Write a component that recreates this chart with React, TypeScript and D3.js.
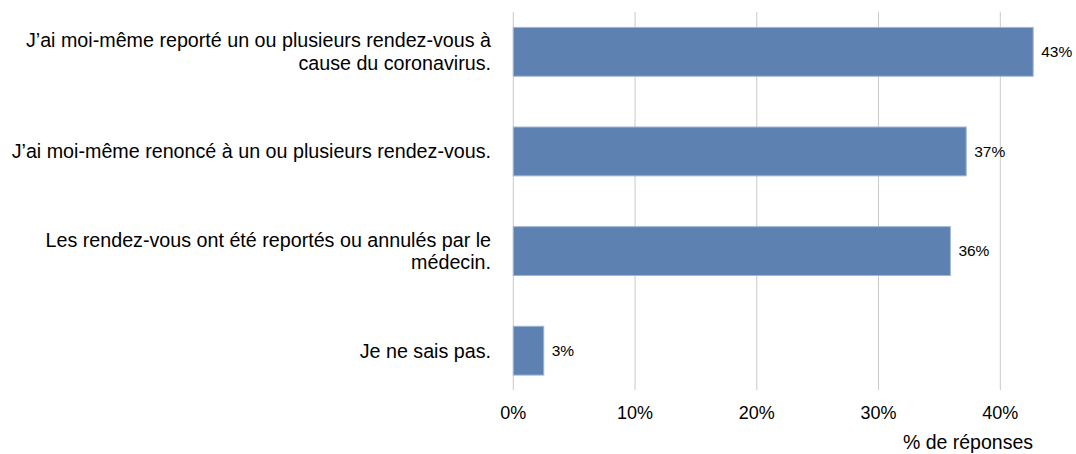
import React from 'react';
import * as d3 from 'd3';

// answers, with manual line breaks as in the source chart
const categories = [
  "J’ai moi-même reporté un ou plusieurs rendez-vous à\ncause du coronavirus.",
  "J’ai moi-même renoncé à un ou plusieurs rendez-vous.",
  "Les rendez-vous ont été reportés ou annulés par le\nmédecin.",
  "Je ne sais pas.",
];
const values = [42.7, 37.2, 35.9, 2.5];
const valueLabels = ["43%", "37%", "36%", "3%"];
const ticks = [0, 10, 20, 30, 40];
const axisTitle = "% de réponses";

const W = 1076, H = 454;
const font = "'Liberation Sans', Arial, sans-serif";

export default function App() {
  const x = d3.scaleLinear().domain([0, 40]).range([513.3, 1000.3]);
  const y = d3.scaleBand<string>().domain(categories).range([2, 400.5]).paddingInner(0.51).paddingOuter(0.255);
  const gridTop = 12, gridBottom = 390;

  return (
    <svg width={W} height={H} style={{ position: 'absolute', left: 0, top: 0, background: '#fff' }}>
      <g>
        {ticks.map(t => (
          <line key={t} x1={x(t)} x2={x(t)} y1={gridTop} y2={gridBottom} stroke="#c9c9c9" strokeWidth={1} />
        ))}
      </g>
      <g>
        {categories.map((c, i) => (
          <rect key={c} x={x(0)} y={y(c)} width={x(values[i]) - x(0)} height={y.bandwidth()}
            fill="#5d82b1" stroke="#9fb5d4" strokeWidth={1} />
        ))}
      </g>
      <g fontFamily={font} fontSize={15.5} fill="#000">
        {categories.map((c, i) => (
          <text key={c} x={x(values[i]) + 8} y={(y(c) as number) + y.bandwidth() / 2} dy="0.35em">{valueLabels[i]}</text>
        ))}
      </g>
      <g fontFamily={font} fontSize={19.7} fill="#000" textAnchor="end">
        {categories.map(c => {
          const lines = c.split("\n");
          const mid = (y(c) as number) + y.bandwidth() / 2;
          const lh = 22.7;
          const first = mid - (lines.length - 1) * lh / 2;
          return (
            <text key={c} x={491} y={first} dy="0.35em">
              {lines.map((l, k) => (
                <tspan key={k} x={491} y={first + k * lh} dy="0.35em">{l}</tspan>
              ))}
            </text>
          );
        })}
      </g>
      <g fontFamily={font} fontSize={18} fill="#000" textAnchor="middle">
        {ticks.map(t => (
          <text key={t} x={x(t)} y={419}>{t}%</text>
        ))}
      </g>
      <text x={1033} y={449} fontFamily={font} fontSize={19.5} fill="#000" textAnchor="end">{axisTitle}</text>
    </svg>
  );
}
